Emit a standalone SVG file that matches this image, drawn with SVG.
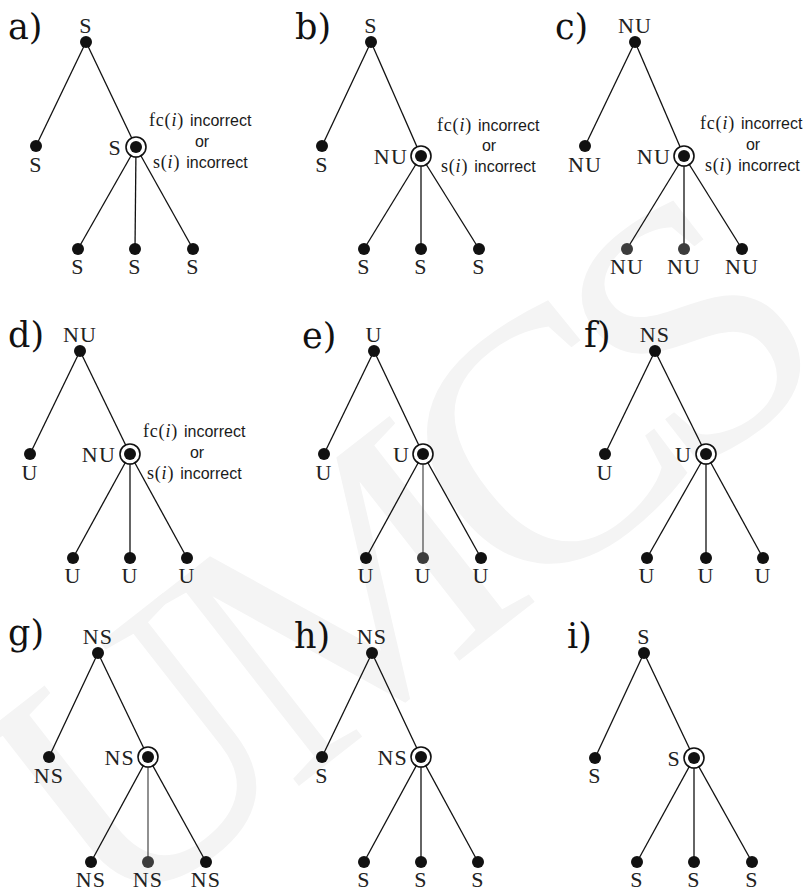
<svg xmlns="http://www.w3.org/2000/svg" width="809" height="892" viewBox="0 0 809 892">
<style>
.bg{fill:#fff}
.wm{font-family:"Liberation Serif",serif;font-size:360px;fill:#f4f4f4;letter-spacing:-30px}
.e{stroke:#111;stroke-width:1.3;fill:none}
.eg{stroke:#555;stroke-width:1.3;fill:none}
.d{fill:#111}
.dg{fill:#3c3c3c}
.ring{fill:#fff;stroke:#111;stroke-width:1.6}
.lbl{font-family:"Liberation Serif",serif;font-size:22px;fill:#222;letter-spacing:1.2px}
.mid{text-anchor:middle}
.end{text-anchor:end}
.pl{font-family:"DejaVu Serif",serif;font-size:35px;fill:#111}
.ann{fill:#1a1a1a}
.m{font-family:"Liberation Serif",serif;font-size:18px;letter-spacing:0.8px}
.mi{font-family:"Liberation Serif",serif;font-style:italic;font-size:18px;letter-spacing:0.8px}
.s{font-family:"Liberation Sans",sans-serif;font-size:16px}
</style>
<rect class="bg" x="0" y="0" width="809" height="892"/>
<g id="watermark" transform="translate(391,563) rotate(-38)">
<text class="wm" x="0" y="119" text-anchor="middle">UMCS</text>
</g>

<g id="connectors">
<line class="e" x1="86" y1="42" x2="36" y2="146"/>
<line class="e" x1="86" y1="42" x2="136" y2="147"/>
<line class="e" x1="136" y1="147" x2="78" y2="249"/>
<line class="e" x1="136" y1="147" x2="135" y2="249"/>
<line class="e" x1="136" y1="147" x2="193" y2="249"/>
<line class="e" x1="371" y1="42" x2="322" y2="146"/>
<line class="e" x1="371" y1="42" x2="421" y2="156"/>
<line class="e" x1="421" y1="156" x2="364" y2="249"/>
<line class="e" x1="421" y1="156" x2="421" y2="249"/>
<line class="e" x1="421" y1="156" x2="479" y2="249"/>
<line class="e" x1="635" y1="42" x2="585" y2="146"/>
<line class="e" x1="635" y1="42" x2="684" y2="156"/>
<line class="e" x1="684" y1="156" x2="627" y2="249"/>
<line class="e" x1="684" y1="156" x2="684" y2="249"/>
<line class="e" x1="684" y1="156" x2="742" y2="249"/>
<line class="e" x1="80" y1="351" x2="30" y2="454"/>
<line class="e" x1="80" y1="351" x2="130" y2="454"/>
<line class="e" x1="130" y1="454" x2="73" y2="558"/>
<line class="e" x1="130" y1="454" x2="130" y2="558"/>
<line class="e" x1="130" y1="454" x2="187" y2="558"/>
<line class="e" x1="374" y1="351" x2="324" y2="454"/>
<line class="e" x1="374" y1="351" x2="423" y2="454"/>
<line class="e" x1="423" y1="454" x2="366" y2="558"/>
<line class="eg" x1="423" y1="454" x2="423" y2="558"/>
<line class="e" x1="423" y1="454" x2="481" y2="558"/>
<line class="e" x1="655" y1="351" x2="605" y2="454"/>
<line class="e" x1="655" y1="351" x2="706" y2="454"/>
<line class="e" x1="706" y1="454" x2="647" y2="558"/>
<line class="e" x1="706" y1="454" x2="706" y2="558"/>
<line class="e" x1="706" y1="454" x2="763" y2="558"/>
<line class="e" x1="98" y1="653" x2="49" y2="757"/>
<line class="e" x1="98" y1="653" x2="148" y2="757"/>
<line class="e" x1="148" y1="757" x2="91" y2="862"/>
<line class="eg" x1="148" y1="757" x2="148" y2="862"/>
<line class="e" x1="148" y1="757" x2="206" y2="862"/>
<line class="e" x1="372" y1="653" x2="322" y2="757"/>
<line class="e" x1="372" y1="653" x2="421" y2="757"/>
<line class="e" x1="421" y1="757" x2="364" y2="862"/>
<line class="e" x1="421" y1="757" x2="421" y2="862"/>
<line class="e" x1="421" y1="757" x2="478" y2="862"/>
<line class="e" x1="644" y1="653" x2="595" y2="758"/>
<line class="e" x1="644" y1="653" x2="694" y2="758"/>
<line class="e" x1="694" y1="758" x2="637" y2="862"/>
<line class="e" x1="694" y1="758" x2="694" y2="862"/>
<line class="e" x1="694" y1="758" x2="752" y2="862"/>
</g>

<g id="panel-a">
<text class="pl" x="8" y="39">a)</text>
<g id="a-root"><circle class="d" cx="86" cy="42" r="6"/><text class="lbl mid" x="86" y="33">S</text></g>
<g id="a-left"><circle class="d" cx="36" cy="146" r="6"/><text class="lbl mid" x="36" y="172">S</text></g>
<g id="a-node"><circle class="ring" cx="136" cy="147" r="10"/><circle class="d" cx="136" cy="147" r="6"/><text class="lbl end" x="122" y="155">S</text></g>
<g id="a-k1"><circle class="d" cx="78" cy="249" r="6"/><text class="lbl mid" x="78" y="274">S</text></g>
<g id="a-k2"><circle class="d" cx="135" cy="249" r="6"/><text class="lbl mid" x="135" y="274">S</text></g>
<g id="a-k3"><circle class="d" cx="193" cy="249" r="6"/><text class="lbl mid" x="193" y="274">S</text></g>
<g id="a-note" class="ann">
<text x="149" y="126"><tspan class="m">fc(</tspan><tspan class="mi">i</tspan><tspan class="m">)</tspan><tspan class="s" dx="6">incorrect</tspan></text>
<text class="s mid" x="202" y="147">or</text>
<text x="153" y="168"><tspan class="m">s(</tspan><tspan class="mi">i</tspan><tspan class="m">)</tspan><tspan class="s" dx="6">incorrect</tspan></text>
</g>
</g>

<g id="panel-b">
<text class="pl" x="295" y="39">b)</text>
<g id="b-root"><circle class="d" cx="371" cy="42" r="6"/><text class="lbl mid" x="371" y="33">S</text></g>
<g id="b-left"><circle class="d" cx="322" cy="146" r="6"/><text class="lbl mid" x="322" y="172">S</text></g>
<g id="b-node"><circle class="ring" cx="421" cy="156" r="10"/><circle class="d" cx="421" cy="156" r="6"/><text class="lbl end" x="408" y="164">NU</text></g>
<g id="b-k1"><circle class="d" cx="364" cy="249" r="6"/><text class="lbl mid" x="364" y="274">S</text></g>
<g id="b-k2"><circle class="d" cx="421" cy="249" r="6"/><text class="lbl mid" x="421" y="274">S</text></g>
<g id="b-k3"><circle class="d" cx="479" cy="249" r="6"/><text class="lbl mid" x="479" y="274">S</text></g>
<g id="b-note" class="ann">
<text x="437" y="131"><tspan class="m">fc(</tspan><tspan class="mi">i</tspan><tspan class="m">)</tspan><tspan class="s" dx="6">incorrect</tspan></text>
<text class="s mid" x="489" y="151">or</text>
<text x="441" y="172"><tspan class="m">s(</tspan><tspan class="mi">i</tspan><tspan class="m">)</tspan><tspan class="s" dx="6">incorrect</tspan></text>
</g>
</g>

<g id="panel-c">
<text class="pl" x="555" y="39">c)</text>
<g id="c-root"><circle class="d" cx="635" cy="42" r="6"/><text class="lbl mid" x="635" y="33">NU</text></g>
<g id="c-left"><circle class="d" cx="585" cy="146" r="6"/><text class="lbl mid" x="585" y="172">NU</text></g>
<g id="c-node"><circle class="ring" cx="684" cy="156" r="10"/><circle class="d" cx="684" cy="156" r="6"/><text class="lbl end" x="671" y="164">NU</text></g>
<g id="c-k1"><circle class="dg" cx="627" cy="249" r="6"/><text class="lbl mid" x="627" y="274">NU</text></g>
<g id="c-k2"><circle class="dg" cx="684" cy="249" r="6"/><text class="lbl mid" x="684" y="274">NU</text></g>
<g id="c-k3"><circle class="d" cx="742" cy="249" r="6"/><text class="lbl mid" x="742" y="274">NU</text></g>
<g id="c-note" class="ann">
<text x="700" y="129"><tspan class="m">fc(</tspan><tspan class="mi">i</tspan><tspan class="m">)</tspan><tspan class="s" dx="6">incorrect</tspan></text>
<text class="s mid" x="753" y="150">or</text>
<text x="705" y="171"><tspan class="m">s(</tspan><tspan class="mi">i</tspan><tspan class="m">)</tspan><tspan class="s" dx="6">incorrect</tspan></text>
</g>
</g>

<g id="panel-d">
<text class="pl" x="8" y="347">d)</text>
<g id="d-root"><circle class="d" cx="80" cy="351" r="6"/><text class="lbl mid" x="80" y="342">NU</text></g>
<g id="d-left"><circle class="d" cx="30" cy="454" r="6"/><text class="lbl mid" x="30" y="480">U</text></g>
<g id="d-node"><circle class="ring" cx="130" cy="454" r="10"/><circle class="d" cx="130" cy="454" r="6"/><text class="lbl end" x="116" y="462">NU</text></g>
<g id="d-k1"><circle class="d" cx="73" cy="558" r="6"/><text class="lbl mid" x="73" y="583">U</text></g>
<g id="d-k2"><circle class="d" cx="130" cy="558" r="6"/><text class="lbl mid" x="130" y="583">U</text></g>
<g id="d-k3"><circle class="d" cx="187" cy="558" r="6"/><text class="lbl mid" x="187" y="583">U</text></g>
<g id="d-note" class="ann">
<text x="143" y="437"><tspan class="m">fc(</tspan><tspan class="mi">i</tspan><tspan class="m">)</tspan><tspan class="s" dx="6">incorrect</tspan></text>
<text class="s mid" x="197" y="458">or</text>
<text x="147" y="479"><tspan class="m">s(</tspan><tspan class="mi">i</tspan><tspan class="m">)</tspan><tspan class="s" dx="6">incorrect</tspan></text>
</g>
</g>

<g id="panel-e">
<text class="pl" x="302" y="348">e)</text>
<g id="e-root"><circle class="d" cx="374" cy="351" r="6"/><text class="lbl mid" x="374" y="342">U</text></g>
<g id="e-left"><circle class="d" cx="324" cy="454" r="6"/><text class="lbl mid" x="324" y="480">U</text></g>
<g id="e-node"><circle class="ring" cx="423" cy="454" r="10"/><circle class="d" cx="423" cy="454" r="6"/><text class="lbl end" x="410" y="462">U</text></g>
<g id="e-k1"><circle class="d" cx="366" cy="558" r="6"/><text class="lbl mid" x="366" y="583">U</text></g>
<g id="e-k2"><circle class="dg" cx="423" cy="558" r="6"/><text class="lbl mid" x="423" y="583">U</text></g>
<g id="e-k3"><circle class="d" cx="481" cy="558" r="6"/><text class="lbl mid" x="481" y="583">U</text></g>
</g>

<g id="panel-f">
<text class="pl" x="584" y="347">f)</text>
<g id="f-root"><circle class="d" cx="655" cy="351" r="6"/><text class="lbl mid" x="655" y="342">NS</text></g>
<g id="f-left"><circle class="d" cx="605" cy="454" r="6"/><text class="lbl mid" x="605" y="480">U</text></g>
<g id="f-node"><circle class="ring" cx="706" cy="454" r="10"/><circle class="d" cx="706" cy="454" r="6"/><text class="lbl end" x="692" y="462">U</text></g>
<g id="f-k1"><circle class="d" cx="647" cy="558" r="6"/><text class="lbl mid" x="647" y="583">U</text></g>
<g id="f-k2"><circle class="d" cx="706" cy="558" r="6"/><text class="lbl mid" x="706" y="583">U</text></g>
<g id="f-k3"><circle class="d" cx="763" cy="558" r="6"/><text class="lbl mid" x="763" y="583">U</text></g>
</g>

<g id="panel-g">
<text class="pl" x="8" y="645">g)</text>
<g id="g-root"><circle class="d" cx="98" cy="653" r="6"/><text class="lbl mid" x="98" y="644">NS</text></g>
<g id="g-left"><circle class="d" cx="49" cy="757" r="6"/><text class="lbl mid" x="49" y="783">NS</text></g>
<g id="g-node"><circle class="ring" cx="148" cy="757" r="10"/><circle class="d" cx="148" cy="757" r="6"/><text class="lbl end" x="135" y="765">NS</text></g>
<g id="g-k1"><circle class="d" cx="91" cy="862" r="6"/><text class="lbl mid" x="91" y="887">NS</text></g>
<g id="g-k2"><circle class="dg" cx="148" cy="862" r="6"/><text class="lbl mid" x="148" y="887">NS</text></g>
<g id="g-k3"><circle class="d" cx="206" cy="862" r="6"/><text class="lbl mid" x="206" y="887">NS</text></g>
</g>

<g id="panel-h">
<text class="pl" x="294" y="648">h)</text>
<g id="h-root"><circle class="d" cx="372" cy="653" r="6"/><text class="lbl mid" x="372" y="644">NS</text></g>
<g id="h-left"><circle class="d" cx="322" cy="757" r="6"/><text class="lbl mid" x="322" y="783">S</text></g>
<g id="h-node"><circle class="ring" cx="421" cy="757" r="10"/><circle class="d" cx="421" cy="757" r="6"/><text class="lbl end" x="408" y="765">NS</text></g>
<g id="h-k1"><circle class="d" cx="364" cy="862" r="6"/><text class="lbl mid" x="364" y="887">S</text></g>
<g id="h-k2"><circle class="d" cx="421" cy="862" r="6"/><text class="lbl mid" x="421" y="887">S</text></g>
<g id="h-k3"><circle class="d" cx="478" cy="862" r="6"/><text class="lbl mid" x="478" y="887">S</text></g>
</g>

<g id="panel-i">
<text class="pl" x="567" y="648">i)</text>
<g id="i-root"><circle class="d" cx="644" cy="653" r="6"/><text class="lbl mid" x="644" y="644">S</text></g>
<g id="i-left"><circle class="d" cx="595" cy="758" r="6"/><text class="lbl mid" x="595" y="783">S</text></g>
<g id="i-node"><circle class="ring" cx="694" cy="758" r="10"/><circle class="d" cx="694" cy="758" r="6"/><text class="lbl end" x="681" y="766">S</text></g>
<g id="i-k1"><circle class="d" cx="637" cy="862" r="6"/><text class="lbl mid" x="637" y="887">S</text></g>
<g id="i-k2"><circle class="d" cx="694" cy="862" r="6"/><text class="lbl mid" x="694" y="887">S</text></g>
<g id="i-k3"><circle class="d" cx="752" cy="862" r="6"/><text class="lbl mid" x="752" y="887">S</text></g>
</g>
</svg>
